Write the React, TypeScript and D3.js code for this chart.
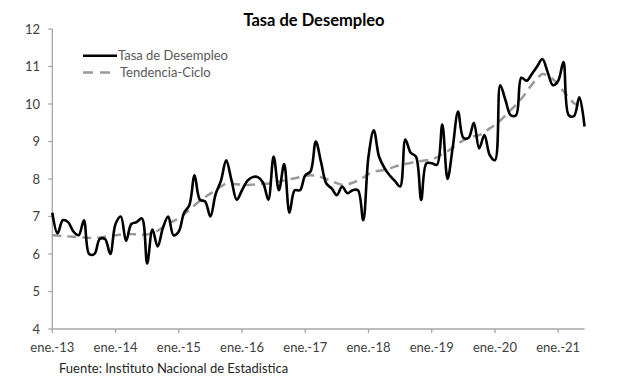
import React from "react";
import * as d3 from "d3";

const title = "Tasa de Desempleo";
const source = "Fuente: Instituto Nacional de Estadistica";
const seriesNames = ["Tasa de Desempleo", "Tendencia-Ciclo"];
const yTicks = [4, 5, 6, 7, 8, 9, 10, 11, 12];
const xTickLabels = ["ene.-13", "ene.-14", "ene.-15", "ene.-16", "ene.-17", "ene.-18", "ene.-19", "ene.-20", "ene.-21"];

// monthly values, Jan 2013 .. Jun 2021
const tasa = [
  7.1, 6.55, 6.9, 6.85, 6.6, 6.5, 6.9, 6.0, 6.0, 6.4, 6.4, 6.0,
  6.8, 7.0, 6.35, 6.8, 6.85, 6.95, 5.75, 6.65, 6.2, 6.7, 7.0, 6.5,
  6.6, 7.1, 7.3, 8.1, 7.45, 7.4, 7.0, 7.6, 7.95, 8.5, 7.97, 7.45,
  7.7, 7.95, 8.05, 8.05, 7.9, 7.45, 8.6, 7.7, 8.4, 7.1, 7.7, 7.7,
  8.1, 8.2, 9.0, 8.45, 7.88, 7.75, 7.57, 7.8, 7.62, 7.7, 7.7, 6.9,
  8.6, 9.3, 8.6, 8.3, 8.1, 7.95, 7.8, 9.05, 8.7, 8.6, 7.44, 8.42,
  8.42, 8.38, 9.45, 8.0, 8.86, 9.8, 9.1, 9.1, 9.5, 8.82, 9.17, 8.64,
  8.5, 10.5, 10.1, 9.7, 9.7, 10.7, 10.62, 10.8, 11.0, 11.2, 10.85, 10.5,
  10.62, 11.12, 9.7, 9.68, 10.18, 9.4,
];

const tendencia = [
  6.5, 6.49, 6.48, 6.47, 6.46, 6.45, 6.44, 6.43, 6.43, 6.44, 6.46, 6.48,
  6.5, 6.52, 6.53, 6.53, 6.52, 6.51, 6.52, 6.56, 6.62, 6.72, 6.82, 6.88,
  6.95, 7.05, 7.17, 7.3, 7.42, 7.52, 7.61, 7.7, 7.8, 7.88, 7.88, 7.86,
  7.85, 7.84, 7.85, 7.86, 7.87, 7.88, 7.9, 7.93, 7.96, 7.99, 8.02, 8.05,
  8.08, 8.1, 8.09, 8.05, 8.0, 7.94, 7.89, 7.85, 7.86, 7.9, 7.96, 8.04,
  8.13, 8.2, 8.22, 8.24, 8.28, 8.33, 8.37, 8.4, 8.43, 8.46, 8.48, 8.5,
  8.52, 8.58, 8.66, 8.74, 8.84, 8.94, 9.03, 9.09, 9.14, 9.17, 9.25, 9.35,
  9.44, 9.56, 9.7, 9.84, 9.98, 10.14, 10.32, 10.52, 10.68, 10.8, 10.76, 10.66,
  10.52, 10.34, 10.18, 10.02, 9.95, 9.92,
];

const W = 617;
const H = 379;
const FONT = "Lato, 'Open Sans', sans-serif";

export default function App() {
  const x = d3.scaleLinear().domain([0, 96]).range([52.3, 558.2]);
  const y = d3.scaleLinear().domain([4, 12]).range([329, 29]);
  const xEnd = x(101);

  const line = d3
    .line<number>()
    .x((_, i) => x(i))
    .y((d) => y(d))
    .curve(d3.curveCatmullRom.alpha(0.5));

  const axisColor = "#a6a6a6";
  const textColor = "#404040";

  return (
    <svg
      width={W}
      height={H}
      viewBox={`0 0 ${W} ${H}`}
      style={{ position: "absolute", left: 0, top: 0, background: "#fff" }}
    >
      <rect x={0} y={0} width={W} height={H} fill="#fff" />
      <text x={314} y={25.5} textAnchor="middle" fontFamily={FONT} fontWeight="bold" fontSize={16.5} fill="#000">
        {title}
      </text>

      {/* y axis */}
      <line x1={x(0)} x2={x(0)} y1={y(12)} y2={y(4)} stroke={axisColor} strokeWidth={1.3} />
      {yTicks.map((t) => (
        <g key={t}>
          <line x1={x(0) - 4} x2={x(0)} y1={y(t)} y2={y(t)} stroke={axisColor} strokeWidth={1.3} />
          <text x={40} y={y(t) + 4.5} textAnchor="end" fontFamily={FONT} fontSize={13} fill={textColor}>
            {t}
          </text>
        </g>
      ))}

      {/* x axis */}
      <line x1={x(0)} x2={xEnd} y1={y(4)} y2={y(4)} stroke={axisColor} strokeWidth={1.3} />
      {xTickLabels.map((lab, i) => (
        <g key={lab}>
          <line x1={x(i * 12)} x2={x(i * 12)} y1={y(4)} y2={y(4) + 4} stroke={axisColor} strokeWidth={1.3} />
          <text x={x(i * 12)} y={352} textAnchor="middle" fontFamily={FONT} fontSize={13} fill={textColor}>
            {lab}
          </text>
        </g>
      ))}

      {/* series */}
      <path d={line(tendencia) || ""} fill="none" stroke="#999999" strokeWidth={2.5} strokeDasharray="9 6" />
      <path d={line(tasa) || ""} fill="none" stroke="#000" strokeWidth={2.6} strokeLinejoin="round" />

      {/* legend */}
      <line x1={83} x2={117} y1={55.7} y2={55.7} stroke="#000" strokeWidth={2.6} />
      <text x={118} y={60} fontFamily={FONT} fontSize={13} fill="#595959">
        {seriesNames[0]}
      </text>
      <line x1={83} x2={116} y1={72.5} y2={72.5} stroke="#999999" strokeWidth={2.5} strokeDasharray="10 7" />
      <text x={120} y={77} fontFamily={FONT} fontSize={13} fill="#595959">
        {seriesNames[1]}
      </text>

      <text x={59} y={373} fontFamily={FONT} fontSize={13} fill="#262626">
        {source}
      </text>
    </svg>
  );
}
